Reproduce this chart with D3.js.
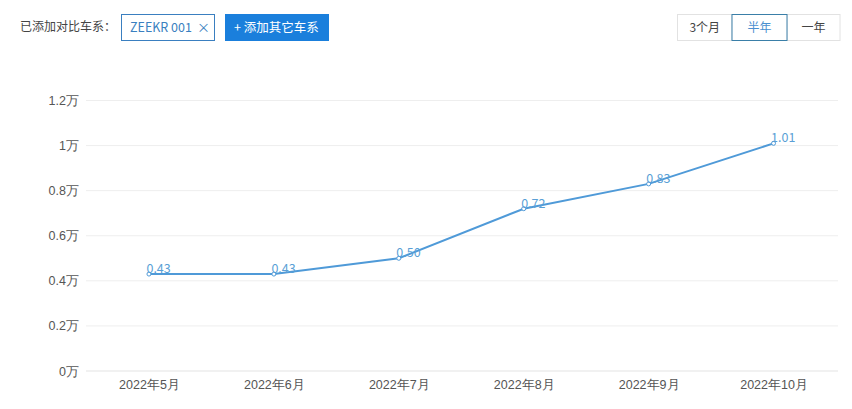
<!DOCTYPE html>
<html><head><meta charset="utf-8">
<script src="https://cdn.jsdelivr.net/npm/d3@7"></script>
<style>
body{margin:0;background:#fff;}
svg{display:block;font-family:"Noto Sans CJK SC","Noto Sans",sans-serif;}
</style></head>
<body><svg id="c" width="852" height="409"></svg>
<script>
const months = ["2022年5月","2022年6月","2022年7月","2022年8月","2022年9月","2022年10月"];
const sales = [0.43,0.43,0.50,0.72,0.83,1.01];
const salesLabels = ["0.43","0.43","0.50","0.72","0.83","1.01"];
const yTicks = [0,0.2,0.4,0.6,0.8,1,1.2];
const periodOptions = ["3个月","半年","一年"];
const selectedPeriod = "半年";

const svg = d3.select("#c");
const x = d3.scalePoint().domain(months).range([86.5,836]).padding(0.5);
const y = d3.scaleLinear().domain([0,1.2]).range([371,100.5]);

// grid
svg.append("g").selectAll("line").data(yTicks).join("line")
  .attr("x1",86).attr("x2",838)
  .attr("y1",d=>y(d)).attr("y2",d=>y(d))
  .attr("stroke",d=>d===0?"#e3e3e3":"#eeeeee").attr("stroke-width",1);

// y axis labels
const yAxis = d3.axisLeft(y).tickValues(yTicks).tickSize(0).tickPadding(0)
  .tickFormat(d=>d3.format("~g")(d)+"万");
svg.append("g").attr("transform","translate(79,0)").call(yAxis)
  .call(g=>g.select(".domain").remove())
  .selectAll("text").attr("fill","#555").attr("font-size",12.5).attr("font-family","inherit");

// x axis labels
const xAxis = d3.axisBottom(x).tickSize(0).tickPadding(0);
svg.append("g").attr("transform","translate(0,380)").call(xAxis)
  .call(g=>g.select(".domain").remove())
  .selectAll("text").attr("fill","#555").attr("font-size",12.5).attr("font-family","inherit");

// line
const line = d3.line().x((d,i)=>x(months[i])).y(d=>y(d));
svg.append("path").datum(sales).attr("d",line)
  .attr("fill","none").attr("stroke","#4f9ad8").attr("stroke-width",2);

svg.append("g").selectAll("circle").data(sales).join("circle")
  .attr("cx",(d,i)=>x(months[i])).attr("cy",d=>y(d)).attr("r",2)
  .attr("fill","#fff").attr("stroke","#4f9ad8").attr("stroke-width",1);

svg.append("g").selectAll("text").data(sales).join("text")
  .attr("x",(d,i)=>x(months[i])-2.5).attr("y",d=>y(d)-1)
  .attr("font-size",12.5).attr("fill","#5a9fd6")
  .text((d,i)=>salesLabels[i]);

// top controls
svg.append("text").attr("x",20).attr("y",31).attr("font-size",12).attr("fill","#444").text("已添加对比车系：");
svg.append("rect").attr("x",121.5).attr("y",14.5).attr("width",93).attr("height",26)
  .attr("fill","#fff").attr("stroke","#3a7fc0");
svg.append("text").attr("x",130).attr("y",32).attr("font-size",12.5).attr("fill","#3a7fc0").text("ZEEKR 001");
svg.append("text").attr("x",197).attr("y",32).attr("font-size",13).attr("fill","#3a7fc0").text("×");
svg.append("rect").attr("x",225).attr("y",14).attr("width",104).attr("height",27).attr("fill","#1a7fdc");
svg.append("text").attr("x",234).attr("y",32).attr("font-size",12.5).attr("fill","#fff").text("+ 添加其它车系");

const segX = [677,731.5,786.5];
const segW = [54.5,55,53];
const seg = svg.append("g");
periodOptions.forEach((p,i)=>{
  const sel = p===selectedPeriod;
  seg.append("rect").attr("x",segX[i]+0.5).attr("y",14.5).attr("width",segW[i]).attr("height",26)
    .attr("fill","#fff").attr("stroke",sel?"none":"#e2e2e2");
});
periodOptions.forEach((p,i)=>{
  const sel = p===selectedPeriod;
  if(sel) seg.append("rect").attr("x",segX[i]+0.5).attr("y",14.5).attr("width",segW[i]).attr("height",26)
    .attr("fill","#fff").attr("stroke","#3a7fa8");
  seg.append("text").attr("x",segX[i]+segW[i]/2+0.5).attr("y",32).attr("text-anchor","middle")
    .attr("font-size",12).attr("fill",sel?"#4a90d0":"#444").text(p);
});
</script></body></html>
